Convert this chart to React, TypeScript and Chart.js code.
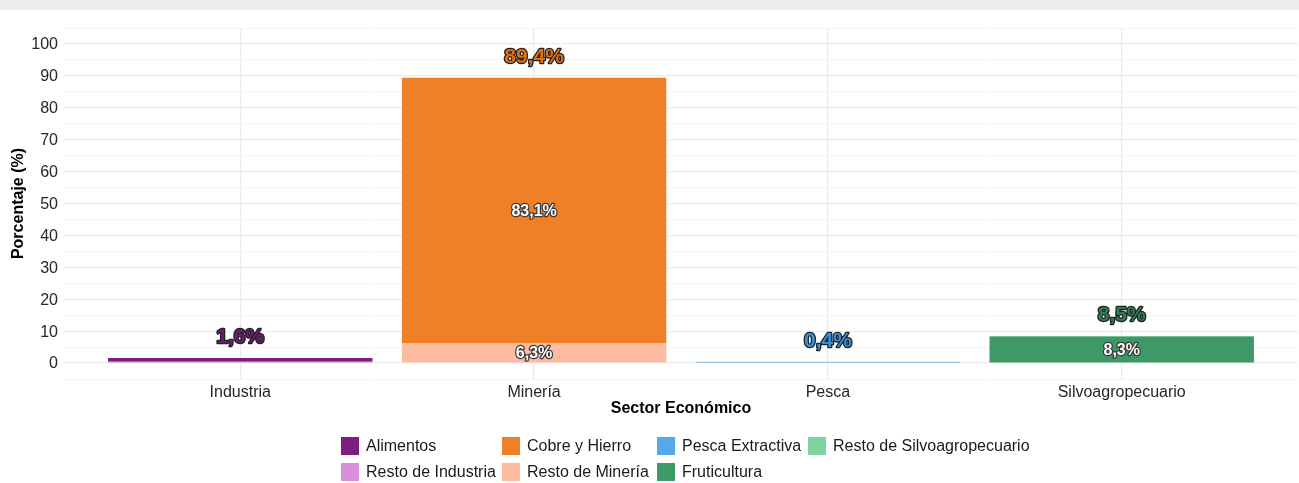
import React, { useEffect, useRef } from 'react';
import { Chart, registerables } from 'chart.js';

Chart.register(...registerables);

// ---- Data ----
const categories = ['Industria', 'Minería', 'Pesca', 'Silvoagropecuario'];
const restoIndustria = [0.4, 0, 0, 0];
const alimentos = [1.2, 0, 0, 0];
const restoMineria = [0, 6.3, 0, 0];
const cobreHierro = [0, 83.1, 0, 0];
const pescaExtractiva = [0, 0, 0.4, 0];
const fruticultura = [0, 0, 0, 8.3];
const restoSilvo = [0, 0, 0, 0.2];
const yTicks = [0, 10, 20, 30, 40, 50, 60, 70, 80, 90, 100];

const FONT = '"Liberation Sans", Arial, Helvetica, sans-serif';

const fmt = (v: number) => v.toFixed(1).replace('.', ',') + '%';

export default function App() {
  const ref = useRef<HTMLCanvasElement>(null);

  useEffect(() => {
    document.body.style.margin = '0';
    const series = [
      { label: 'Resto de Industria', data: restoIndustria, color: '#D98FDB' },
      { label: 'Alimentos', data: alimentos, color: '#7A1F7F' },
      { label: 'Resto de Minería', data: restoMineria, color: '#FDBBA1' },
      { label: 'Cobre y Hierro', data: cobreHierro, color: '#F08028' },
      { label: 'Pesca Extractiva', data: pescaExtractiva, color: '#56A9E8' },
      { label: 'Fruticultura', data: fruticultura, color: '#3F9967' },
      { label: 'Resto de Silvoagropecuario', data: restoSilvo, color: '#80D29E' },
    ];
    const totalColors = ['#6E1C72', '#E0700F', '#3A90D8', '#2E7E52'];
    const legendCols = [
      ['Alimentos', 'Resto de Industria'],
      ['Cobre y Hierro', 'Resto de Minería'],
      ['Pesca Extractiva', 'Fruticultura'],
      ['Resto de Silvoagropecuario'],
    ];
    const legendColX = [341, 502, 657, 808];
    const legendRowY = [427, 453];

    const datasets = series.map((s) => ({
      label: s.label,
      data: s.data.map((v, i) => ({ x: i, y: v })),
      backgroundColor: s.color,
      borderWidth: 0,
      barPercentage: 0.9,
      categoryPercentage: 1,
    }));

    const overlay = {
      id: 'overlay',
      afterDatasetsDraw(chart: any) {
        const ctx = chart.ctx;
        const xs = chart.scales.x;
        const ys = chart.scales.y;
        ctx.save();
        ctx.textAlign = 'center';
        ctx.textBaseline = 'middle';
        ctx.lineJoin = 'round';
        categories.forEach((_c, i) => {
          const x = xs.getPixelForValue(i);
          let base = 0;
          series.forEach((s) => {
            const v = s.data[i];
            if (v > 5) {
              const yc = ys.getPixelForValue(base + v / 2) + 1;
              ctx.font = `bold 16px ${FONT}`;
              ctx.lineWidth = 2.5;
              ctx.strokeStyle = '#3a3a3a';
              ctx.strokeText(fmt(v), x, yc);
              ctx.fillStyle = '#ffffff';
              ctx.fillText(fmt(v), x, yc);
            }
            base += v;
          });
          const yt = ys.getPixelForValue(base) - 21;
          ctx.font = `bold 21px ${FONT}`;
          ctx.lineWidth = 2.5;
          ctx.strokeStyle = '#222222';
          ctx.strokeText(fmt(base), x, yt);
          ctx.fillStyle = totalColors[i];
          ctx.fillText(fmt(base), x, yt);
        });
        ctx.restore();
      },
      afterDraw(chart: any) {
        const ctx = chart.ctx;
        const area = chart.chartArea;
        ctx.save();
        ctx.fillStyle = '#000000';
        ctx.font = `bold 16px ${FONT}`;
        ctx.textAlign = 'center';
        ctx.textBaseline = 'middle';
        ctx.fillText('Sector Económico', (area.left + area.right) / 2, 399);
        ctx.save();
        ctx.translate(19, (area.top + area.bottom) / 2);
        ctx.rotate(-Math.PI / 2);
        ctx.fillText('Porcentaje (%)', 0, 0);
        ctx.restore();
        ctx.textAlign = 'left';
        ctx.font = `16px ${FONT}`;
        legendCols.forEach((col, ci) => {
          col.forEach((name, ri) => {
            const s = series.find((q) => q.label === name)!;
            const bx = legendColX[ci];
            const by = legendRowY[ri];
            ctx.fillStyle = s.color;
            ctx.fillRect(bx, by, 18, 18);
            ctx.fillStyle = '#1a1a1a';
            ctx.fillText(name, bx + 25, by + 9.5);
          });
        });
        ctx.restore();
      },
    };

    const chart = new Chart(ref.current!, {
      type: 'bar',
      data: { datasets: datasets as any },
      options: {
        animation: false,
        responsive: false,
        layout: { padding: { left: 0, right: 1, top: 18, bottom: 0 } },
        plugins: { legend: { display: false }, tooltip: { enabled: false } },
        scales: {
          x: {
            type: 'linear',
            stacked: true,
            offset: false,
            min: -0.6,
            max: 3.6,
            afterBuildTicks: (scale: any) => {
              scale.ticks = categories.map((_c, i) => ({ value: i }));
            },
            afterFit: (scale: any) => {
              scale.height = 104;
            },
            ticks: {
              autoSkip: false,
              maxRotation: 0,
              padding: 4,
              color: '#262626',
              font: { family: FONT, size: 16 },
              callback: (v: any) => categories[v as number] ?? '',
            },
            grid: { color: '#EBEBEB', lineWidth: 1.2, drawTicks: false, offset: false },
            border: { display: false },
          },
          y: {
            type: 'linear',
            stacked: true,
            min: -5,
            max: 105,
            afterBuildTicks: (scale: any) => {
              const t: any[] = [];
              for (let v = -5; v <= 105; v += 5) t.push({ value: v });
              scale.ticks = t;
            },
            afterFit: (scale: any) => {
              scale.width = 64;
            },
            ticks: {
              autoSkip: false,
              padding: 6,
              labelOffset: 1,
              color: '#262626',
              font: { family: FONT, size: 16 },
              callback: (v: any) => (yTicks.includes(v as number) ? String(v) : ''),
            },
            grid: {
              color: (c: any) => (c.tick && c.tick.value % 10 === 0 ? '#EBEBEB' : '#F4F4F4'),
              lineWidth: (c: any) => (c.tick && c.tick.value % 10 === 0 ? 1.2 : 1),
              drawTicks: false,
            },
            border: { display: false },
          },
        },
      },
      plugins: [overlay],
    });
    return () => chart.destroy();
  }, []);

  return (
    <div style={{ position: 'absolute', left: 0, top: 0, width: 1299, height: 483, background: '#fff' }}>
      <div style={{ height: 10, background: '#EDEDED' }} />
      <canvas ref={ref} width={1299} height={473} style={{ display: 'block', width: 1299, height: 473 }} />
    </div>
  );
}
